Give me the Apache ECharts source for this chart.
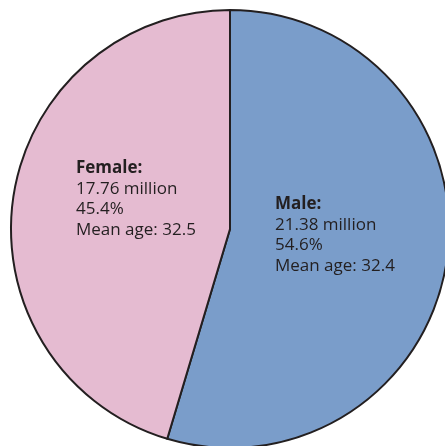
<!DOCTYPE html>
<html><head><meta charset="utf-8">
<script src="https://cdn.jsdelivr.net/npm/echarts@6/dist/echarts.min.js"></script>
<style>html,body{margin:0;padding:0;background:#fff;}#c{width:445px;height:446px;}</style>
</head><body><div id="c"></div>
<script>
const categories = ['Male', 'Female'];
const populationMillions = [21.38, 17.76];
const percentages = ['54.6%', '45.4%'];
const meanAges = [32.4, 32.5];
const colors = ['#7a9dca', '#e5bbd1'];
const labelPos = [{x: 275, y: 194}, {x: 76, y: 158}];

const chart = echarts.init(document.getElementById('c'), null, {renderer: 'canvas'});
chart.setOption({
  animation: false,
  series: [{
    type: 'pie',
    center: [230, 229],
    radius: [0, 219],
    startAngle: 90,
    clockwise: true,
    silent: true,
    itemStyle: {borderColor: '#231f20', borderWidth: 2},
    label: {
      show: true,
      position: 'inside',
      align: 'left',
      formatter: function (p) {
        const i = p.dataIndex;
        return '{b|' + categories[i] + ':}\n{n|' + populationMillions[i].toFixed(2) + ' million}\n{n|' + percentages[i] + '}\n{n|Mean age: ' + meanAges[i] + '}';
      },
      rich: {
        b: {fontFamily: 'Open Sans', fontWeight: 'bold', fontSize: 17, color: '#231f20', lineHeight: 20.5},
        n: {fontFamily: 'Open Sans', fontSize: 17, color: '#231f20', lineHeight: 20.5}
      }
    },
    labelLine: {show: false},
    labelLayout: function (params) {
      const p = labelPos[params.dataIndex];
      return {x: p.x, y: p.y, align: 'left', verticalAlign: 'top'};
    },
    data: categories.map((c, i) => ({name: c, value: populationMillions[i], itemStyle: {color: colors[i]}}))
  }]
});
</script></body></html>
